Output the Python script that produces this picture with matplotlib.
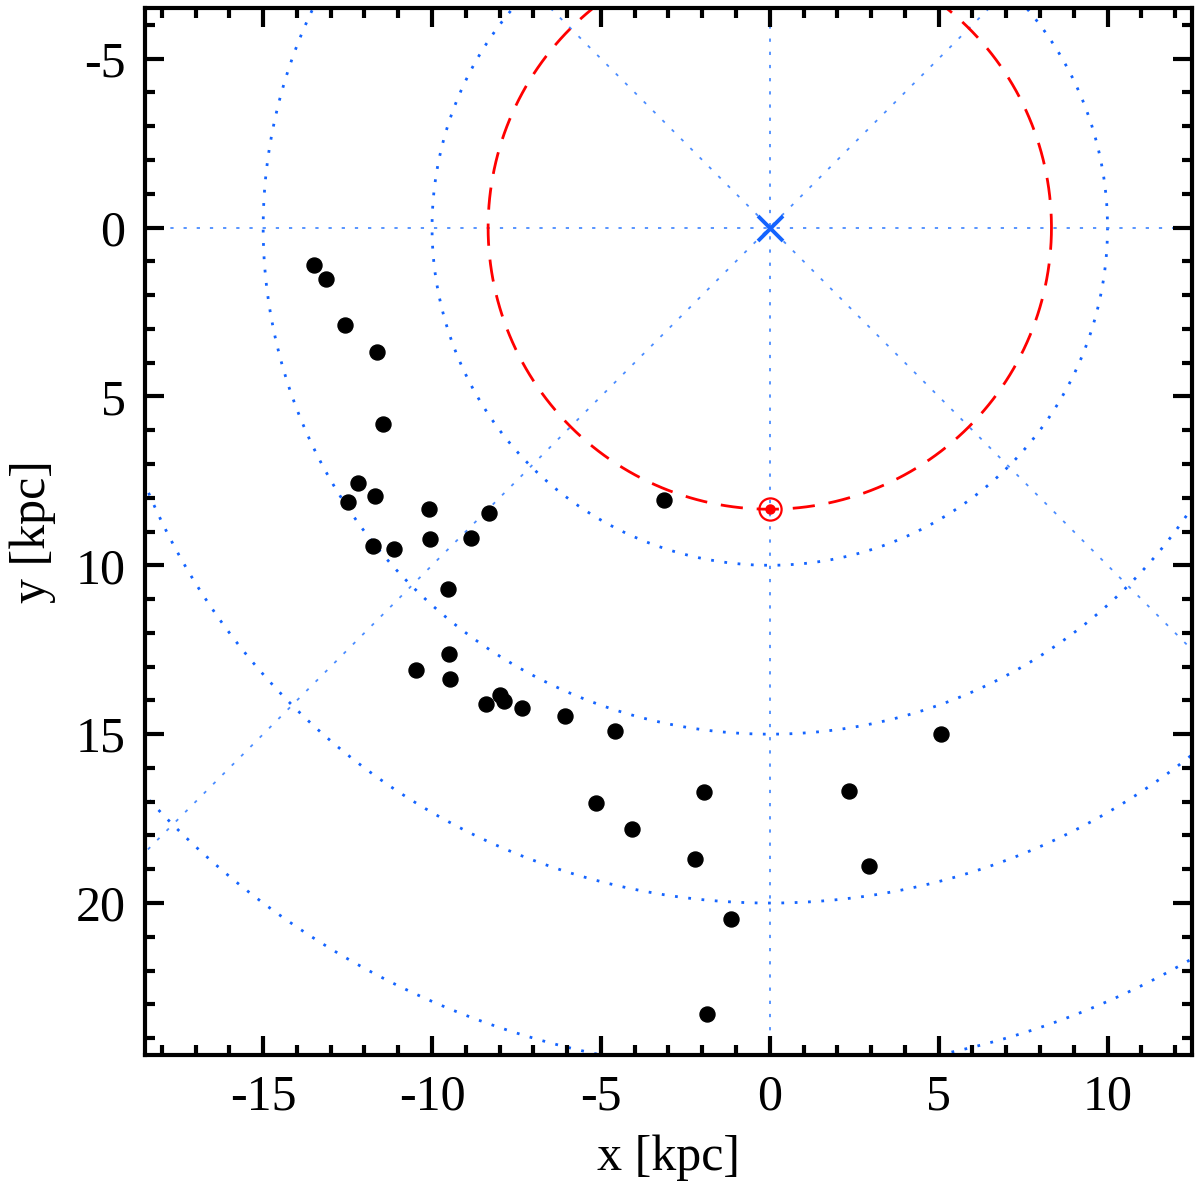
import matplotlib.pyplot as plt
import numpy as np

plt.rcParams['font.family'] = ['Liberation Serif', 'DejaVu Serif']
plt.rcParams['axes.unicode_minus'] = False

# cluster positions [kpc]
x_pts = [-13.50, -13.15, -12.58, -11.63, -11.45, -12.18, -12.50, -11.69,
         -10.10, -8.30, -3.12, -11.76, -11.14, -10.06, -8.86, -9.52,
         -9.50, -10.48, -9.46, -7.99, -7.87, -8.40, -7.33, -6.05, -4.58,
         5.08, -1.94, 2.36, -5.14, -4.07, -2.21, 2.95, -1.14, -1.85]
y_pts = [1.10, 1.51, 2.88, 3.68, 5.82, 7.55, 8.12, 7.94,
         8.34, 8.44, 8.07, 9.43, 9.53, 9.23, 9.19, 10.71,
         12.62, 13.09, 13.37, 13.84, 14.02, 14.12, 14.22, 14.47, 14.92,
         14.99, 16.71, 16.68, 17.03, 17.80, 18.69, 18.90, 20.47, 23.29]

ring_radii = [10, 15, 20, 25]
ray_angles = [0, 45, 90, 135]
r_sun = 8.34


def main():
    fig = plt.figure(figsize=(12, 11.92), dpi=100)
    ax = fig.add_axes([0.1208, 0.1149, 0.8725, 0.8784])

    t = np.linspace(0, 2 * np.pi, 721)
    for r in ring_radii:
        ax.plot(r * np.cos(t), r * np.sin(t), color='#1464ff', lw=2.0,
                ls=(0, (1, 3.8)), zorder=1)

    for a in ray_angles:
        c, s = np.cos(np.radians(a)), np.sin(np.radians(a))
        ax.plot([-40 * c, 40 * c], [-40 * s, 40 * s], color='#4a8cff',
                lw=1.3, ls=(0, (1.8, 5.5)), zorder=1)

    ax.plot(r_sun * np.cos(t), r_sun * np.sin(t), color='red', lw=2.0,
            ls=(0, (8, 5)), zorder=2)

    ax.plot(0, 0, 'x', color='#1464ff', ms=18, mew=2.8, zorder=3)
    ax.plot(0, r_sun, 'o', mfc='none', mec='red', ms=16, mew=1.6, zorder=3)
    ax.plot(0, r_sun, 'o', color='red', ms=6.5, zorder=3)

    ax.plot(x_pts, y_pts, 'o', color='black', ms=10.8, zorder=4)

    ax.set_xlim(-18.5, 12.5)
    ax.set_ylim(24.5, -6.5)
    ax.set_xticks([-15, -10, -5, 0, 5, 10])
    ax.set_yticks([-5, 0, 5, 10, 15, 20])
    ax.set_xticks(np.arange(-18, 13), minor=True)
    ax.set_yticks(np.arange(-6, 25), minor=True)
    ax.tick_params(which='both', direction='in', top=True, right=True,
                   width=3, labelsize=36, pad=14)
    ax.tick_params(which='major', length=14)
    ax.tick_params(which='minor', length=7)
    for sp in ax.spines.values():
        sp.set_linewidth(3)

    ax.set_xlabel('x [kpc]', fontsize=36, labelpad=10)
    ax.set_ylabel('y [kpc]', fontsize=36, labelpad=14)

    fig.savefig('out.png', dpi=100)


if __name__ == "__main__":
    main()
